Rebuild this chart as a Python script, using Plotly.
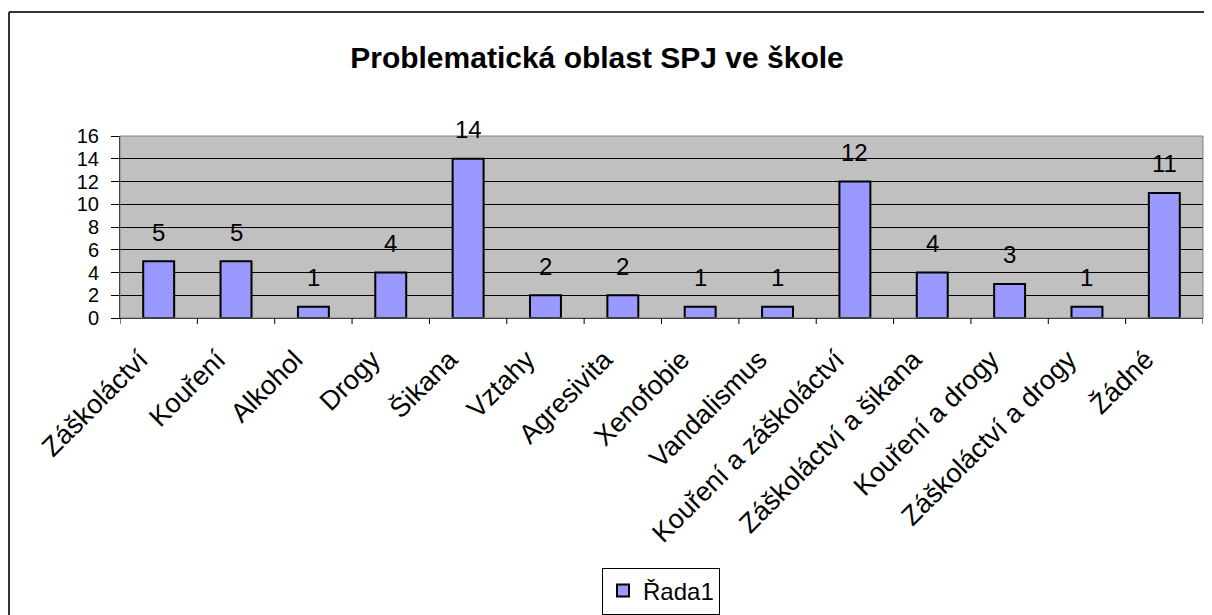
import plotly.graph_objects as go

categories = ["Záškoláctví", "Kouření", "Alkohol", "Drogy", "Šikana", "Vztahy", "Agresivita",
              "Xenofobie", "Vandalismus", "Kouření a záškoláctví", "Záškoláctví a šikana",
              "Kouření a drogy", "Záškoláctví a drogy", "Žádné"]
values = [5, 5, 1, 4, 14, 2, 2, 1, 1, 12, 4, 3, 1, 11]
series_name = "Řada1"
title = "Problematická oblast SPJ ve škole"
y_ticks = list(range(0, 17, 2))

# page body has an 8px margin, so the figure is drawn 8px smaller/offset
OFF = 8
W, H = 1212 - OFF, 615 - OFF
L, R, T, B = 120 - OFF, 1203 - OFF, 136 - OFF, 318 - OFF

def px(x):
    return (x - OFF - L) / (R - L)

def py(y):
    return (B - (y - OFF)) / (B - T)

FONT = "Liberation Sans, Arial, sans-serif"
FS = 24
LABEL_OFFSET = -0.24  # rotated category labels sit slightly left of the category centre

xs = list(range(len(categories)))

fig = go.Figure()
fig.add_trace(go.Bar(
    x=xs, y=values, name=series_name,
    width=0.4,
    marker=dict(color="#9999FF", line=dict(color="black", width=2)),
    showlegend=True,
))

annotations = [
    dict(x=i, y=v, xref="x", yref="y", text=str(v), showarrow=False,
         yanchor="middle", yshift=29, font=dict(family=FONT, size=FS, color="black"))
    for i, v in zip(xs, values)
]

shapes = [
    dict(type="line", xref="paper", yref="paper", x0=px(9), x1=px(1230), y0=py(12), y1=py(12),
         line=dict(color="#333333", width=2)),
    dict(type="line", xref="paper", yref="paper", x0=px(9), x1=px(9), y0=py(12), y1=py(640),
         line=dict(color="#333333", width=2)),
    dict(type="rect", xref="paper", yref="paper", x0=0, x1=1, y0=0, y1=1,
         line=dict(color="#808080", width=1), layer="above"),
]
for i in range(len(categories) + 1):
    shapes.append(dict(type="line", xref="x", yref="paper", x0=i - 0.5, x1=i - 0.5,
                       y0=0, y1=-6 / (B - T), line=dict(color="black", width=1)))

fig.update_layout(
    width=W, height=H,
    margin=dict(l=L, r=W - R, t=T, b=H - B, pad=0, autoexpand=False),
    paper_bgcolor="white", plot_bgcolor="#C0C0C0",
    title=dict(text="<b>" + title + "</b>", xref="container", x=(597 - OFF) / W, xanchor="center",
               y=1 - (57 - OFF) / H, yanchor="middle",
               font=dict(family=FONT, size=30, color="black")),
    font=dict(family=FONT, color="black"),
    xaxis=dict(
        tickmode="array", tickvals=[i + LABEL_OFFSET for i in xs], ticktext=categories,
        range=[-0.5, len(categories) - 0.5], tickangle=-45,
        ticks="", showgrid=False, zeroline=False, automargin=False,
        showline=True, linecolor="black", linewidth=1,
        ticklabelstandoff=14,
        tickfont=dict(family=FONT, size=27, color="black"),
    ),
    yaxis=dict(
        range=[0, 16], tickmode="array", tickvals=y_ticks,
        ticks="outside", ticklen=8, tickcolor="black", automargin=False,
        ticklabelstandoff=8,
        showgrid=True, gridcolor="black", gridwidth=1, zeroline=False,
        showline=True, linecolor="black", linewidth=1,
        tickfont=dict(family=FONT, size=20, color="black"),
    ),
    legend=dict(orientation="h", x=px(661), xanchor="center", y=py(591), yanchor="middle",
                bordercolor="black", borderwidth=1, bgcolor="white",
                font=dict(family=FONT, size=FS, color="black")),
    shapes=shapes,
    annotations=annotations,
)

fig.write_html("out.html")
